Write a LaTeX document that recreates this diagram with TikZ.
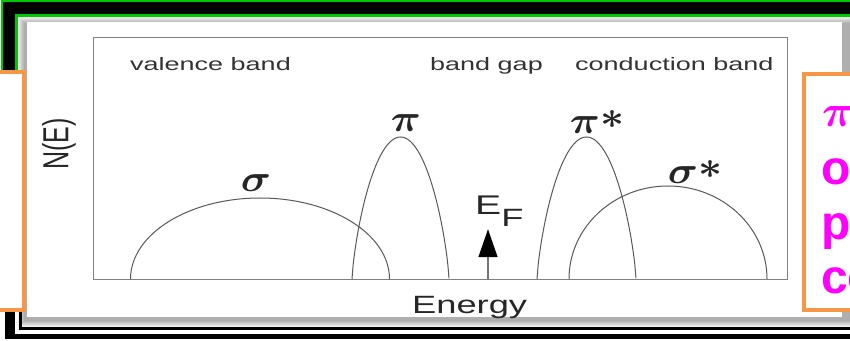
\RequirePackage{fix-cm}
\documentclass[tikz,border=0pt]{standalone}
\usepackage{amsmath,amssymb}
\usepackage{fontspec}
\setmainfont{Liberation Sans}
\usepackage{graphicx}
\usepackage{xcolor}
\usetikzlibrary{arrows.meta,calc}
\definecolor{framegreen}{RGB}{0,200,0}
\definecolor{boxorange}{RGB}{247,150,70}
\definecolor{notemagenta}{RGB}{255,0,255}
\newcommand{\wide}[1]{\scalebox{1.45}[1]{#1}}
\newcommand{\bandwide}[1]{\scalebox{1.5}[1]{#1}}
\newcommand{\antistar}{\raisebox{5pt}{$\boldsymbol{*}$}}

\begin{document}
\begin{tikzpicture}[x=1pt,y=1pt,
  band/.style={anchor=base west, inner sep=0, text=black!80, font=\fontsize{18}{20}\selectfont},
  greek/.style={inner sep=0, text=black!85, font=\fontsize{38}{40}\selectfont},
  dos/.style={black!65, line width=1pt},
  note/.style={anchor=base west, inner sep=0, text=notemagenta, font=\fontsize{48}{52}\selectfont\bfseries}]
  \useasboundingbox (0,0) rectangle (850,340);
  \fill[white] (0,0) rectangle (850,340);
  % slide panel with its soft shadow
  \foreach \d in {0,...,6}
    \fill[black, opacity=0.05] (18+\d,13+\d) rectangle (850,323-\d);
  \fill[white] (27,23) rectangle (842,318);
  % frame lines
  \draw[framegreen, double=black, double distance=12pt, line width=2.5pt] (9,270) -- (9,331.5) -- (850,331.5);
  \fill[black] (5,1) rectangle (15,28);
  \fill[black] (5,1) rectangle (850,6);
  \draw[black, line width=3pt] (20.5,28) -- (20.5,11.5) -- (850,11.5);
  % side boxes
  \draw[boxorange, line width=4pt, fill=white] (-10,30) rectangle (24,268);
  \draw[boxorange, line width=4pt, fill=white] (804,30) rectangle (870,266);
  % density of states plot
  \draw[black!50, line width=0.9pt] (93,61) rectangle (787,303);
  \draw[dos] (130.5,61) arc[start angle=180, end angle=0, x radius=129.5, y radius=81];
  \draw[dos] plot[domain=-1:1, samples=81, smooth] ({400.5+48.5*\x},{61+142*sqrt(max(0,1-\x*\x))*sqrt(sqrt(max(0,1-\x*\x)))});
  \draw[dos] plot[domain=-1:1, samples=81, smooth] ({586.5+49.5*\x},{61+142*sqrt(max(0,1-\x*\x))*sqrt(sqrt(max(0,1-\x*\x)))});
  \draw[dos] (569,61) arc[start angle=180, end angle=0, x radius=99, y radius=93];
  \node[greek] (sig) at (256,157) {\scalebox{1.1}[1]{$\boldsymbol{\sigma}$}};
  \node[greek] (pi) at (406,217) {\scalebox{1.1}[1]{$\boldsymbol{\pi}$}};
  \node[greek] (pistar) at (597,218) {\scalebox{1.1}[1]{$\boldsymbol{\pi}$\antistar}};
  \node[greek] (sigstar) at (695,168) {\scalebox{1.1}[1]{$\boldsymbol{\sigma}$\antistar}};
  \node[band] (valence) at (130,269) {\bandwide{valence band}};
  \node[band] (gap) at (430,269) {\bandwide{band gap}};
  \node[band] (conduction) at (575,269) {\bandwide{conduction band}};
  \node[anchor=base west, inner sep=0, text=black!85, font=\fontsize{25}{25}\selectfont] (energy) at (412,27) {\wide{Energy}};
  \node[rotate=90, inner sep=0, text=black!85, font=\fontsize{25}{25}\selectfont] (ne) at (59,196) {\scalebox{1}[1.45]{N(E)}};
  % Fermi level
  \coordinate (efbase) at (488,61);
  \node[anchor=base west, inner sep=0, text=black!85, font=\fontsize{27}{27}\selectfont] (ef) at (475,125) {\wide{E}\raisebox{-12pt}{\fontsize{25}{25}\selectfont\wide{F}}};
  \draw[black!55, line width=1.5pt, shorten >=2pt, -{Triangle[length=28pt, width=19pt, black]}] (efbase) -- (efbase |- ef.south);
  % note on the right
  \node[note, font=\fontsize{45}{45}\selectfont\boldmath] (notepi) at (822,213) {$\pi$\raisebox{6pt}{$*$}};
  \node[note] (noteo) at (821,155) {o};
  \node[note] (notep) at (821,100) {p};
  \node[note] (noteco) at (821,47) {co};
\end{tikzpicture}
\end{document}
